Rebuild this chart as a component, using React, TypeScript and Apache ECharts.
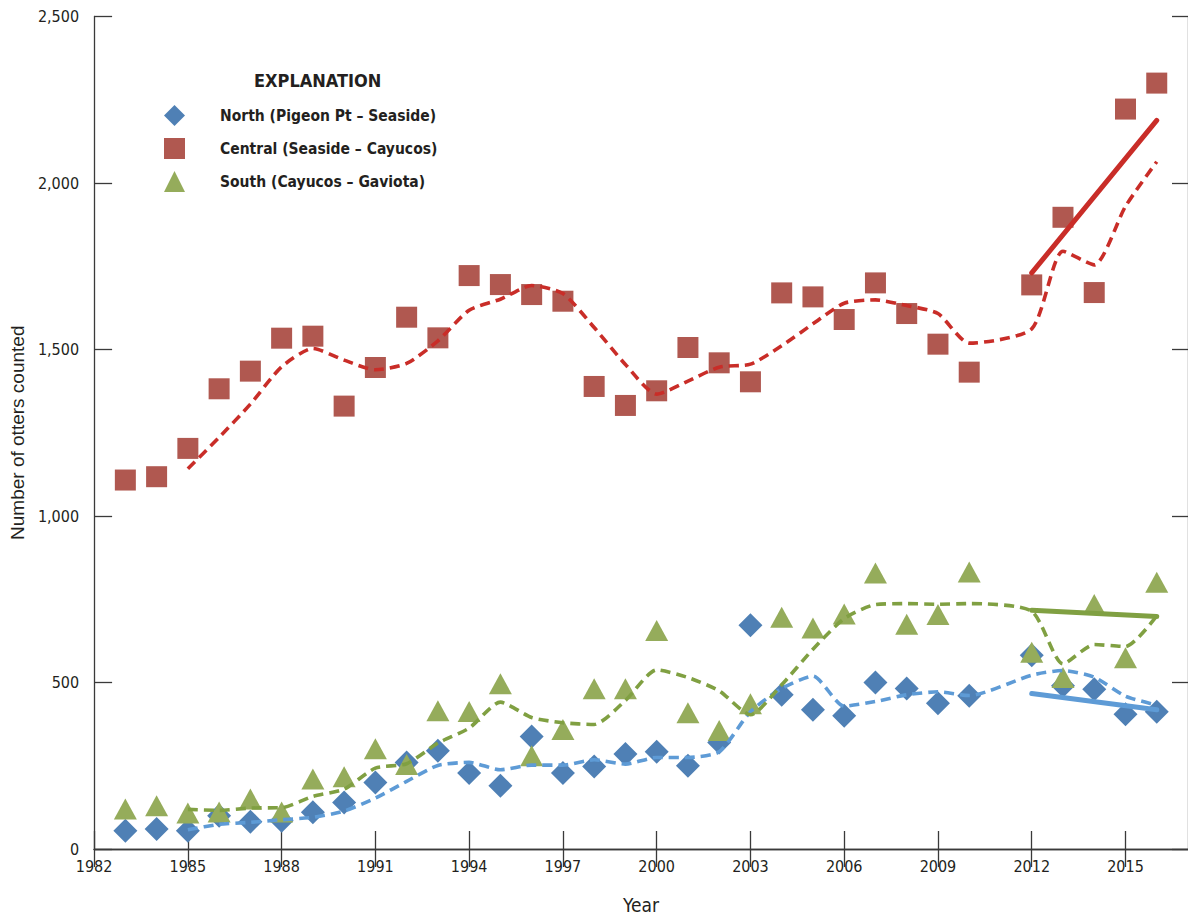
import React, { useEffect, useRef } from "react";
import * as echarts from "echarts";

const years = [1983, 1984, 1985, 1986, 1987, 1988, 1989, 1990, 1991, 1992, 1993, 1994, 1995, 1996, 1997, 1998, 1999, 2000, 2001, 2002, 2003, 2004, 2005, 2006, 2007, 2008, 2009, 2010, 2012, 2013, 2014, 2015, 2016];

const northCounts = [55, 60, 55, 100, 82, 85, 110, 140, 200, 260, 295, 228, 190, 338, 228, 248, 285, 292, 250, 320, 672, 463, 418, 400, 500, 482, 438, 460, 582, 490, 480, 405, 412];
const centralCounts = [1108, 1118, 1203, 1382, 1435, 1534, 1540, 1330, 1446, 1597, 1535, 1722, 1695, 1665, 1645, 1389, 1332, 1376, 1506, 1460, 1403, 1670, 1658, 1590, 1700, 1608, 1516, 1432, 1694, 1897, 1671, 2222, 2300];
const southCounts = [120, 130, 108, 111, 150, 111, 210, 217, 301, 254, 415, 413, 496, 280, 359, 481, 481, 656, 409, 356, 436, 696, 664, 706, 829, 675, 704, 832, 591, 515, 734, 574, 801];

// dashed running-average curves (from 1985)
const trendYears = [1985, 1986, 1987, 1988, 1989, 1990, 1991, 1992, 1993, 1994, 1995, 1996, 1997, 1998, 1999, 2000, 2001, 2002, 2003, 2004, 2005, 2006, 2007, 2008, 2009, 2010, 2012, 2013, 2014, 2015, 2016];
const northTrend = [58, 74, 80, 88, 95, 114, 153, 203, 251, 260, 238, 252, 252, 268, 255, 275, 275, 292, 412, 482, 519, 429, 443, 463, 472, 461, 522, 536, 516, 459, 432];
const centralTrend = [1142, 1236, 1336, 1448, 1503, 1468, 1439, 1458, 1526, 1618, 1651, 1692, 1668, 1566, 1455, 1366, 1405, 1447, 1456, 1511, 1577, 1639, 1649, 1632, 1608, 1519, 1562, 1795, 1754, 1930, 2064];
const southTrend = [119, 116, 123, 124, 158, 180, 243, 256, 318, 363, 441, 395, 379, 374, 446, 538, 515, 475, 403, 493, 600, 692, 734, 737, 735, 737, 714, 556, 614, 608, 700];

// solid recent-trend lines (2012-2016)
const recentYears = [2012, 2016];
const northRecent = [467, 418];
const centralRecent = [1730, 2188];
const southRecent = [717, 698];

const xTickYears = [1982, 1985, 1988, 1991, 1994, 1997, 2000, 2003, 2006, 2009, 2012, 2015];
const yTicks = [0, 500, 1000, 1500, 2000, 2500];

const seriesNames = [
  "North (Pigeon Pt \u2013 Seaside)",
  "Central (Seaside \u2013 Cayucos)",
  "South (Cayucos \u2013 Gaviota)",
];

const C_NORTH = "#4f80b5";
const C_CENTRAL = "#b05850";
const C_SOUTH = "#95ac5b";
const L_NORTH = "#5e9bd6";
const L_CENTRAL = "#c92d28";
const L_SOUTH = "#80a042";

const NARROW = "'Liberation Sans Narrow', 'DejaVu Sans Condensed', Roboto, sans-serif";
const REG = "'Liberation Sans', Arial, sans-serif";

const pairs = (xs: number[], ys: number[]) => xs.map((x, i) => [x, ys[i]]);

export default function App() {
  const ref = useRef<HTMLDivElement>(null);
  useEffect(() => {
    document.body.style.margin = "0";
    const chart = echarts.init(ref.current!, null, { renderer: "svg" });
    const axisColor = "#3a3a3a";
    const dashed = (name: string, xs: number[], ys: number[], color: string) => ({
      name,
      type: "line",
      data: pairs(xs, ys),
      symbol: "none",
      smooth: 0.22,
      z: 5,
      lineStyle: { color, width: 3.6, type: [10, 6] },
    });
    const solid = (name: string, xs: number[], ys: number[], color: string) => ({
      name,
      type: "line",
      data: pairs(xs, ys),
      symbol: "none",
      z: 6,
      lineStyle: { color, width: 5, cap: "round" },
    });
    const tickStyle = { color: axisColor, width: 1.3 };
    chart.setOption({
      animation: false,
      backgroundColor: "#ffffff",
      grid: { left: 93, right: 0, top: 16.5, bottom: 69.5, containLabel: false },
      title: {
        text: "EXPLANATION",
        left: 249,
        top: 66,
        textStyle: { fontFamily: NARROW, fontWeight: "bold", fontSize: 18, color: "#231f20" },
      },
      legend: {
        data: seriesNames,
        orient: "vertical",
        left: 159,
        top: 100,
        itemWidth: 21,
        itemHeight: 21,
        itemGap: 12,
        selectedMode: false,
        textStyle: {
          fontFamily: NARROW,
          fontWeight: "bold",
          fontSize: 15.5,
          color: "#231f20",
          padding: [0, 0, 0, 30],
        },
      },
      xAxis: [
        {
          type: "value",
          min: 1982,
          max: 2017,
          position: "bottom",
          name: "Year",
          nameLocation: "middle",
          nameGap: 46,
          nameTextStyle: { fontFamily: NARROW, fontSize: 19, color: "#231f20" },
          axisLine: { lineStyle: tickStyle },
          axisTick: { inside: true, length: 18, customValues: xTickYears, lineStyle: tickStyle },
          axisLabel: {
            customValues: xTickYears,
            formatter: (v: number) => String(v),
            fontFamily: NARROW,
            fontSize: 16,
            color: "#231f20",
            margin: 9,
          },
          splitLine: { show: false },
        },
        {
          type: "value",
          min: 1982,
          max: 2017,
          position: "top",
          axisLine: { show: true, lineStyle: tickStyle },
          axisTick: { show: true, inside: true, length: 18, customValues: xTickYears, lineStyle: tickStyle },
          axisLabel: { show: false, customValues: xTickYears },
          splitLine: { show: false },
        },
      ],
      yAxis: [
        {
          type: "value",
          min: 0,
          max: 2500,
          interval: 500,
          position: "left",
          name: "Number of otters counted",
          nameLocation: "middle",
          nameGap: 64,
          nameTextStyle: { fontFamily: REG, fontSize: 19, color: "#231f20" },
          axisLine: { show: true, lineStyle: tickStyle },
          axisTick: { show: true, inside: true, length: 18, lineStyle: tickStyle },
          axisLabel: {
            formatter: (v: number) => v.toLocaleString("en-US"),
            fontFamily: NARROW,
            fontSize: 16,
            color: "#231f20",
            margin: 15,
            customValues: yTicks,
          },
          splitLine: { show: false },
        },
        {
          type: "value",
          min: 0,
          max: 2500,
          interval: 500,
          position: "right",
          axisLine: { show: true, lineStyle: tickStyle },
          axisTick: { show: true, inside: true, length: 16, lineStyle: tickStyle },
          axisLabel: { show: false },
          splitLine: { show: false },
        },
      ],
      series: [
        {
          name: seriesNames[0],
          type: "scatter",
          data: pairs(years, northCounts),
          symbol: "diamond",
          symbolSize: [24, 24],
          itemStyle: { color: C_NORTH, opacity: 1 },
          z: 2,
        },
        {
          name: seriesNames[1],
          type: "scatter",
          data: pairs(years, centralCounts),
          symbol: "rect",
          symbolSize: 21,
          itemStyle: { color: C_CENTRAL, opacity: 1 },
          z: 3,
        },
        {
          name: seriesNames[2],
          type: "scatter",
          data: pairs(years, southCounts),
          symbol: "triangle",
          symbolSize: [23, 21],
          itemStyle: { color: C_SOUTH, opacity: 1 },
          z: 4,
        },
        dashed("North trend", trendYears, northTrend, L_NORTH),
        dashed("Central trend", trendYears, centralTrend, L_CENTRAL),
        dashed("South trend", trendYears, southTrend, L_SOUTH),
        solid("North 2012-2016", recentYears, northRecent, L_NORTH),
        solid("Central 2012-2016", recentYears, centralRecent, L_CENTRAL),
        solid("South 2012-2016", recentYears, southRecent, L_SOUTH),
        {
          name: "frame",
          type: "line",
          xAxisIndex: 1,
          yAxisIndex: 1,
          data: [],
          symbol: "none",
          silent: true,
        },
      ],
    });
    return () => chart.dispose();
  }, []);
  return <div ref={ref} style={{ width: 1188, height: 919 }} />;
}
